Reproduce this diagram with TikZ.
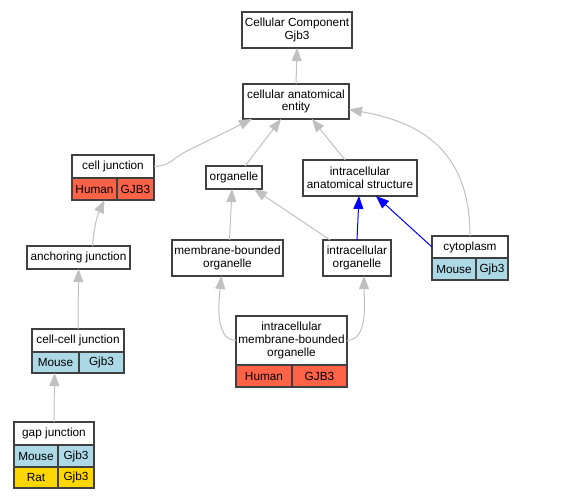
\documentclass[tikz,border=0pt]{standalone}
\usepackage{fontspec}
\setmainfont{Liberation Sans}
\usetikzlibrary{arrows.meta}
\definecolor{edgegray}{HTML}{C0C0C0}
\definecolor{boxline}{HTML}{404040}
\definecolor{human}{HTML}{FF6347}
\definecolor{mouse}{HTML}{ADD8E6}
\definecolor{rat}{HTML}{FFD700}
\begin{document}
\begin{tikzpicture}[x=1pt,y=-1pt,
  term/.style={draw=boxline,line width=1.3pt,fill=white,inner sep=0pt,outer sep=0pt,align=center,
    font=\fontsize{11.8}{12.7}\selectfont},
  cell/.style={term,anchor=north west},
  isa/.style={draw=edgegray,line width=1pt,-{Triangle[length=13pt,width=10pt]}},
  isablue/.style={isa,draw=blue}]
  \useasboundingbox (0,0) rectangle (584,499);
  \node[term,minimum width=110,minimum height=36] (top) at (297,30) {Cellular Component\\Gjb3};
  \node[term,minimum width=106,minimum height=35] (entity) at (296,101.5) {cellular anatomical\\entity};
  \node[term,minimum width=82,minimum height=23] (celljunction) at (113,166.5) {cell junction};
  \node[cell,fill=human,minimum width=45,minimum height=22] (cjH) at (celljunction.south west) {Human};
  \node[cell,fill=human,minimum width=37,minimum height=22] (cjG) at (cjH.north east) {GJB3};
  \node[term,minimum width=56,minimum height=23] (organelle) at (234,177.5) {organelle};
  \node[term,minimum width=114,minimum height=36] (ias) at (360,178) {intracellular\\anatomical structure};
  \node[term,minimum width=76,minimum height=22] (cytoplasm) at (470,247) {cytoplasm};
  \node[cell,fill=mouse,minimum width=44,minimum height=22] (cyM) at (cytoplasm.south west) {Mouse};
  \node[cell,fill=mouse,minimum width=32,minimum height=22] (cyG) at (cyM.north east) {Gjb3};
  \node[term,minimum width=111,minimum height=36] (mbo) at (227.5,258) {membrane-bounded\\organelle};
  \node[term,minimum width=68,minimum height=36] (io) at (357,258) {intracellular\\organelle};
  \node[term,minimum width=103,minimum height=23] (anchoring) at (78.5,257.5) {anchoring junction};
  \node[term,minimum width=92,minimum height=23] (cellcell) at (78,340.5) {cell-cell junction};
  \node[cell,fill=mouse,minimum width=47,minimum height=21] (ccM) at (cellcell.south west) {Mouse};
  \node[cell,fill=mouse,minimum width=45,minimum height=21] (ccG) at (ccM.north east) {Gjb3};
  \node[term,minimum width=111,minimum height=49] (imbo) at (291.5,340.5) {intracellular\\membrane-bounded\\organelle};
  \node[cell,fill=human,minimum width=56,minimum height=22] (imH) at (imbo.south west) {Human};
  \node[cell,fill=human,minimum width=55,minimum height=22] (imG) at (imH.north east) {GJB3};
  \node[term,minimum width=80,minimum height=23] (gap) at (54,433.5) {gap junction};
  \node[cell,fill=mouse,minimum width=44,minimum height=22] (gjM) at (gap.south west) {Mouse};
  \node[cell,fill=mouse,minimum width=36,minimum height=22] (gjG) at (gjM.north east) {Gjb3};
  \node[cell,fill=rat,minimum width=44,minimum height=21] (gjR) at (gjM.south west) {Rat};
  \node[cell,fill=rat,minimum width=36,minimum height=21] (gjRG) at (gjR.north east) {Gjb3};

  \draw[isa] (entity.north) -- (top.south);
  \draw[isa] (celljunction.east) .. controls +(15,0) and +(-12,6) .. ++(32,-15) -- ([xshift=-44]entity.south);
  \draw[isa] ([xshift=11]organelle.north) -- ([xshift=-15]entity.south);
  \draw[isa] ([xshift=-15]ias.north) -- ([xshift=16]entity.south);
  \draw[isa] (cytoplasm.north) .. controls (470,150) and (420,122) .. ([yshift=-8]entity.east);
  \draw[isa] ([xshift=2]mbo.north) -- ([xshift=-2]organelle.south);
  \draw[isa] ([xshift=7]io.north west) -- ([xshift=-8]organelle.south east);
  \draw[isablue] (io.north) -- ([xshift=-1]ias.south);
  \draw[isablue] (cytoplasm.west) -- ([xshift=16]ias.south);
  \draw[isa] ([xshift=14]anchoring.north) to[bend left=10] ([xshift=10]cjH.south);
  \draw[isa] (cellcell.north) -- (anchoring.south);
  \draw[isa] (gap.north) -- ([xshift=-1]ccM.south);
  \draw[isa] (imbo.west) .. controls (214,340) and (219,300) .. ([xshift=-6]mbo.south);
  \draw[isa] (imbo.east) .. controls (369,340) and (364,300) .. ([xshift=7]io.south);
\end{tikzpicture}
\end{document}
